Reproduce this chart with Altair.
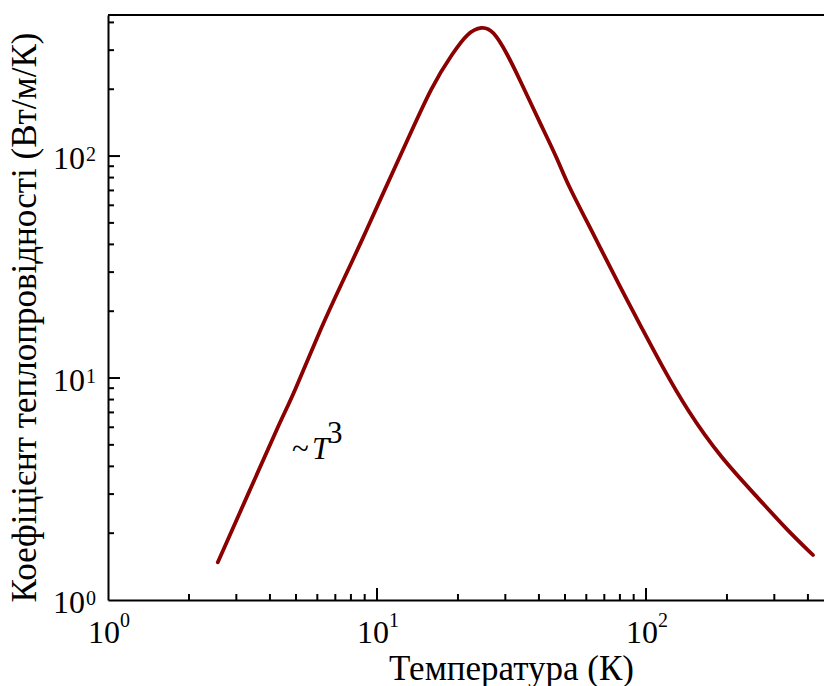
import altair as alt
import pandas as pd

# Curve (log-log)
temperature = [2.56, 3.37, 4.44, 4.83, 6.30, 7.41, 8.80, 10.26, 12.49, 16.15, 19.16,
               21.61, 24.57, 27.0, 30.4, 34.0, 40.4, 47.1, 50.8, 63.5, 80.1, 97.4,
               115.7, 142.1, 188.4, 265.4, 334.3, 417.7]
conductivity = [1.48, 3.13, 6.67, 8.13, 17.7, 26.8, 41.8, 63.4, 106.4, 213, 291,
                358, 385, 369, 291, 220, 140.8, 95.9, 75.6, 45.0, 25.7, 16.45,
                11.09, 7.18, 4.41, 2.82, 2.07, 1.595]

x_domain = [1, 459]
y_domain = [1, 432]

major_ticks = [10, 100]
x_minor_ticks = [2, 3, 4, 5, 6, 7, 8, 9, 20, 30, 40, 50, 60, 70, 80, 90, 200, 300, 400]
y_minor_ticks = [2, 3, 4, 5, 6, 7, 8, 9, 20, 30, 40, 50, 60, 70, 80, 90, 200, 300, 400]
label_values = [1, 10, 100]
label_exponents = ["0", "1", "2"]

x_title = "Температура (К)"
y_title = "Коефіцієнт теплопровідності (Вт/м/К)"

FONT = "Liberation Serif, Times New Roman, serif"
CURVE = "#8b0000"

xs = alt.Scale(type="log", domain=x_domain, nice=False)
ys = alt.Scale(type="log", domain=y_domain, nice=False)

xaxis = alt.Axis(
    title=x_title, labels=False, ticks=False, grid=False, domain=True,
    domainColor="black", domainWidth=2, titleFont=FONT, titleFontSize=35,
    titleFontWeight="normal", titleColor="black", titleX=403, titleY=79,
    titleBaseline="alphabetic", titleAlign="center")
yaxis = alt.Axis(
    title=y_title, labels=False, ticks=False, grid=False, domain=True,
    domainColor="black", domainWidth=2, titleFont=FONT, titleFontSize=35,
    titleFontWeight="normal", titleColor="black", titleX=-73, titleY=302,
    titleBaseline="alphabetic", titleAlign="center", titleAngle=-90)

def xd(v):
    return alt.XDatum(v, type="quantitative", scale=xs, axis=xaxis)

def yd(v):
    return alt.YDatum(v, type="quantitative", scale=ys, axis=yaxis)

curve_df = pd.DataFrame({"T": temperature, "k": conductivity})
labels_df = pd.DataFrame({"v": label_values, "e": label_exponents})
one = pd.DataFrame({"a": [0]})

line = alt.Chart(curve_df).mark_line(
    color=CURVE, strokeWidth=3.8, interpolate="basis", strokeCap="round"
).encode(
    x=alt.X("T:Q", scale=xs, axis=xaxis),
    y=alt.Y("k:Q", scale=ys, axis=yaxis),
)

# ticks centred on the axis line with the outer half clipped away -> inward ticks
def xticks(vals, length):
    return alt.Chart(pd.DataFrame({"v": vals})).mark_tick(
        orient="vertical", size=2 * length, thickness=2, color="black", opacity=1, clip=True
    ).encode(
        x=alt.X("v:Q", scale=xs, axis=xaxis),
        y=yd(y_domain[0]),
    )

def yticks(vals, length):
    return alt.Chart(pd.DataFrame({"v": vals})).mark_tick(
        orient="horizontal", size=2 * length, thickness=2, color="black", opacity=1, clip=True
    ).encode(
        y=alt.Y("v:Q", scale=ys, axis=yaxis),
        x=xd(x_domain[0]),
    )

top_rule = alt.Chart(one).mark_rule(color="black", strokeWidth=2).encode(
    x=xd(x_domain[0]),
    x2=alt.X2Datum(x_domain[1]),
    y=yd(y_domain[1]),
)

x_base = alt.Chart(labels_df).mark_text(
    font=FONT, fontSize=32, align="center", baseline="alphabetic", dx=-4, dy=43, color="black"
).encode(
    x=alt.X("v:Q", scale=xs, axis=xaxis),
    y=yd(y_domain[0]),
    text=alt.value("10"),
)
x_exp = alt.Chart(labels_df).mark_text(
    font=FONT, fontSize=20, align="left", baseline="alphabetic", dx=12, dy=27, color="black"
).encode(
    x=alt.X("v:Q", scale=xs, axis=xaxis),
    y=yd(y_domain[0]),
    text="e:N",
)
y_base = alt.Chart(labels_df).mark_text(
    font=FONT, fontSize=32, align="right", baseline="alphabetic", dx=-23, dy=13, color="black"
).encode(
    y=alt.Y("v:Q", scale=ys, axis=yaxis),
    x=xd(x_domain[0]),
    text=alt.value("10"),
)
y_exp = alt.Chart(labels_df).mark_text(
    font=FONT, fontSize=20, align="left", baseline="alphabetic", dx=-22, dy=5, color="black"
).encode(
    y=alt.Y("v:Q", scale=ys, axis=yaxis),
    x=xd(x_domain[0]),
    text="e:N",
)

# "~T^3" annotation
ann_tilde = alt.Chart(one).mark_text(
    font=FONT, fontSize=31, align="left", baseline="alphabetic", color="black"
).encode(x=xd(4.83), y=yd(4.32), text=alt.value("~"))
ann_T = alt.Chart(one).mark_text(
    font=FONT, fontSize=31, fontStyle="italic", align="left", baseline="alphabetic", color="black"
).encode(x=xd(5.73), y=yd(4.32), text=alt.value("T"))
ann_3 = alt.Chart(one).mark_text(
    font=FONT, fontSize=31, align="left", baseline="alphabetic", color="black"
).encode(x=xd(6.52), y=yd(5.10), text=alt.value("3"))

chart = alt.layer(
    line,
    xticks(major_ticks, 12), xticks(x_minor_ticks, 6),
    yticks(major_ticks, 12), yticks(y_minor_ticks, 6),
    top_rule, x_base, x_exp, y_base, y_exp, ann_tilde, ann_T, ann_3,
).properties(
    width=716, height=585,
    autosize=alt.AutoSizeParams(type="none"),
    padding={"left": 108, "top": 15, "right": 0, "bottom": 86},
    background="white",
).configure_view(stroke=None)

chart.save("out.html", embed_options={"renderer": "svg", "actions": False})
